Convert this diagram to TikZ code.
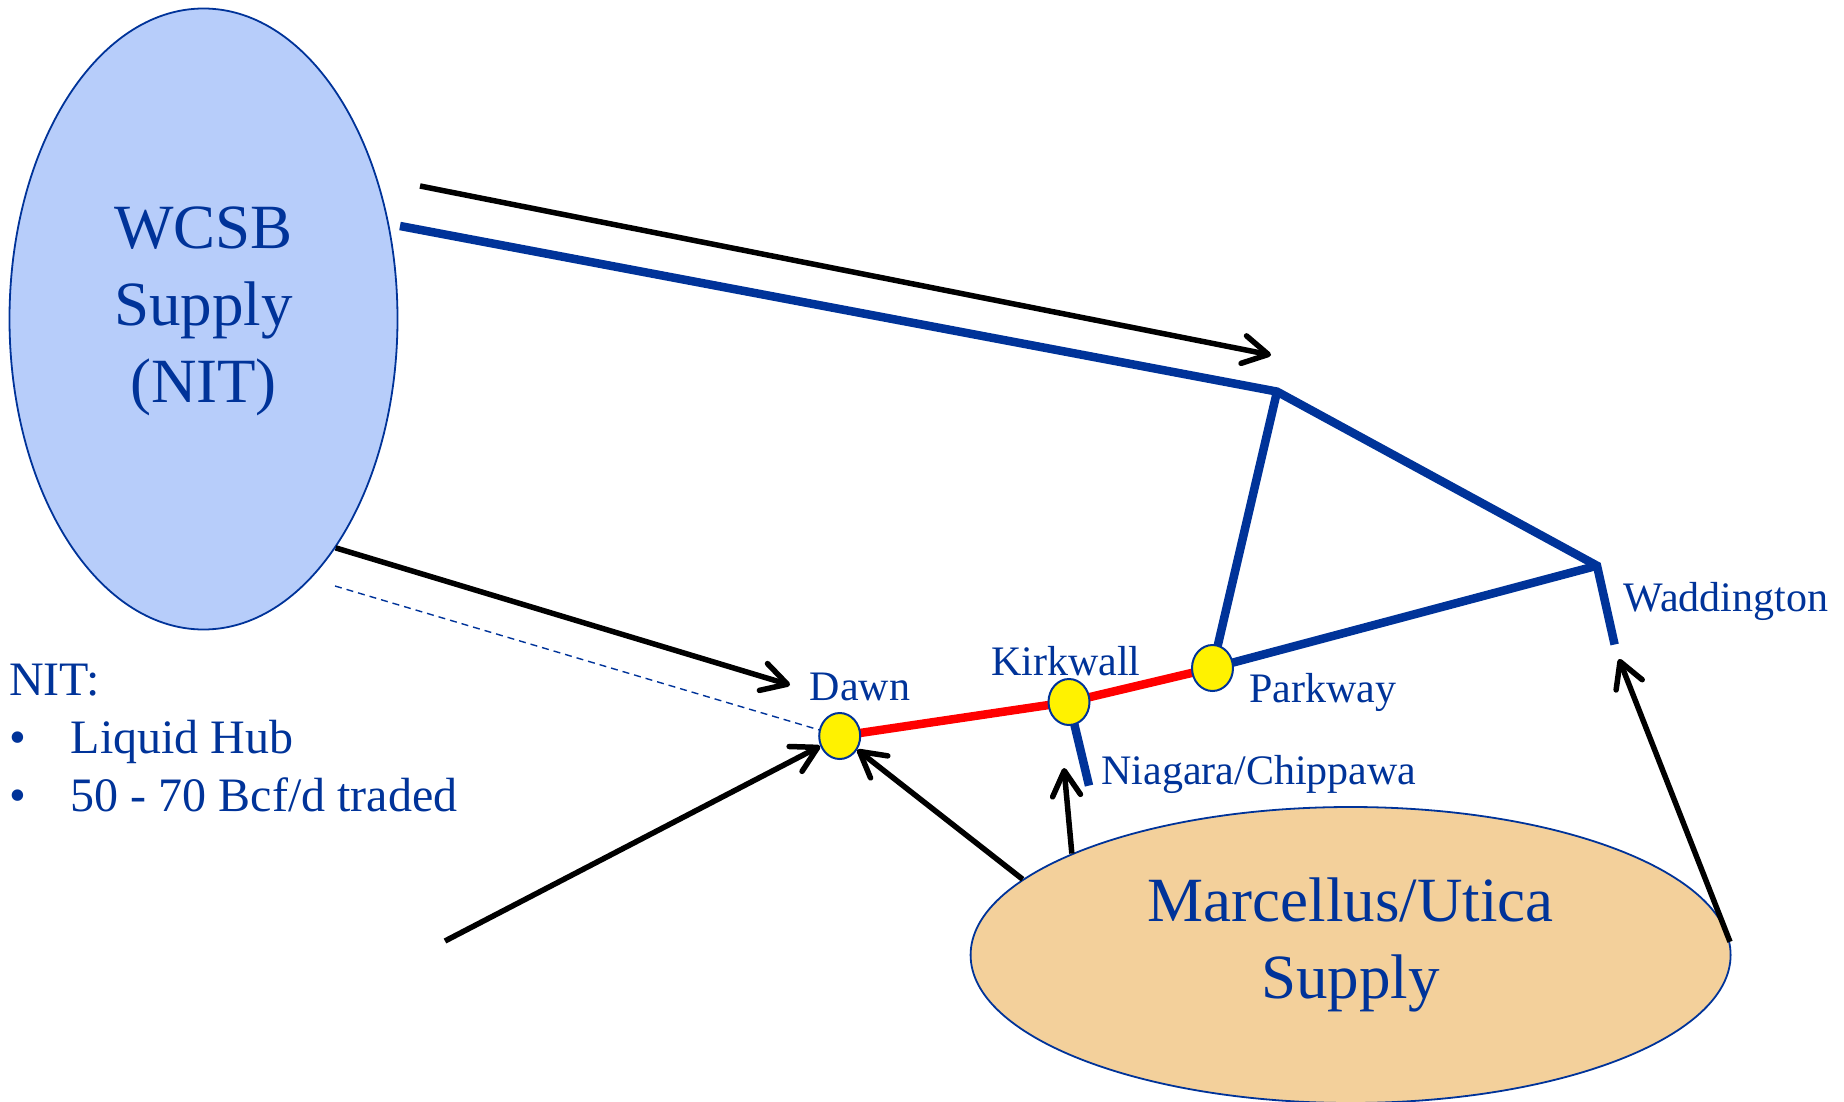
\documentclass[tikz,border=0pt]{standalone}
\usepackage{fontspec}
\setmainfont{Liberation Serif}
\usetikzlibrary{arrows.meta,shapes.geometric,backgrounds}
\definecolor{tblue}{RGB}{0,51,153}
\definecolor{wfill}{RGB}{183,205,250}
\definecolor{mfill}{RGB}{243,208,155}
\begin{document}
\begin{tikzpicture}[x=1pt,y=-1pt,
  pipe/.style={line width=8.5pt, draw=tblue},
  redpipe/.style={line width=8.5pt, draw=red},
  flow/.style={line width=5.5pt, draw=black, -{Straight Barb[length=25pt,width=28pt,line width=5.5pt,round]}},
  hub/.style={ellipse, draw=tblue, line width=2pt, fill=yellow, minimum width=41pt, minimum height=46pt, inner sep=0pt},
  lbl/.style={text=tblue, font=\fontsize{42}{50}\selectfont, inner sep=0pt, anchor=base},
  big/.style={text=tblue, font=\fontsize{63}{77}\selectfont, inner sep=0pt, align=center},
  supply/.style={ellipse, draw=tblue, line width=1.8pt, inner sep=0pt},
  note/.style={text=tblue, font=\fontsize{48}{58}\selectfont, anchor=base west, inner sep=0pt},
  ]
\useasboundingbox (0,0) rectangle (1844,1102);
% supply regions
\node[supply, fill=wfill, minimum width=388pt, minimum height=621pt] (wcsb) at (203.5,319) {};
\node[big, anchor=base] (wcsbtxt) at (203.5,402) {WCSB\\Supply\\(NIT)};
\node[supply, fill=mfill, minimum width=760pt, minimum height=296pt] (marc) at (1350.6,955) {};
\node[big, anchor=base] (marctxt) at (1350.6,998) {Marcellus/Utica\\Supply};
% hubs
\node[hub] (dawn) at (839.7,736) {};
\node[hub] (kirk) at (1069,702) {};
\node[hub] (park) at (1212.5,668) {};
\coordinate (j1) at (1277,391.6);
\coordinate (wadj) at (1597,565.7);
\coordinate (wadend) at (1614.6,644.5);
\coordinate (niag) at (1089,785.6);
\coordinate (bluestart) at (400,226);
\coordinate (blkstart) at (420,186);
\coordinate (blkend) at (1271,355);
\coordinate (dashstart) at (335,586);
\coordinate (dawnarr) at (790,685);
\coordinate (llstart) at (445,941);
\coordinate (niagarr) at (1064,768);
\coordinate (wadarr) at (1619,659);
\begin{scope}[on background layer]
  \draw[pipe] (bluestart) -- (j1) -- (wadj) -- (wadend);
  \draw[pipe] (j1) -- (park.center);
  \draw[pipe] (park.center) -- (wadj);
  \draw[pipe] (kirk.center) -- (niag);
  \draw[redpipe] (dawn.center) -- (kirk.center) -- (park.center);
  \draw[tblue, line width=1.4pt, dash pattern=on 7pt off 5pt] (dashstart) -- (dawn);
\end{scope}
% labels
\node[lbl] (ldawn) at (860,700) {Dawn};
\node[lbl] (lkirk) at (1066,675) {Kirkwall};
\node[lbl] (lpark) at (1323,702) {Parkway};
\node[lbl] (lniag) at (1259,784) {Niagara/Chippawa};
\node[lbl] (lwad) at (1726,611.5) {Waddington};
% flows
\draw[flow] (blkstart) -- (blkend);
\draw[flow] (wcsb.-60) -- (dawnarr);
\draw[flow] (llstart) -- (dawn);
\draw[flow] (marc.167.7) -- (dawn);
\draw[flow] (marc.160) -- (niagarr);
\draw[flow] (marc.2) -- (wadarr);
% NIT notes
\node[note] (nit) at (9,695) {NIT:};
\node[note] (b1) at (9,753) {\textbullet};
\node[note] (l1) at (70.6,753) {Liquid Hub};
\node[note] (b2) at (9,811) {\textbullet};
\node[note] (l2) at (70.6,811) {50 - 70 Bcf/d traded};
\end{tikzpicture}
\end{document}
